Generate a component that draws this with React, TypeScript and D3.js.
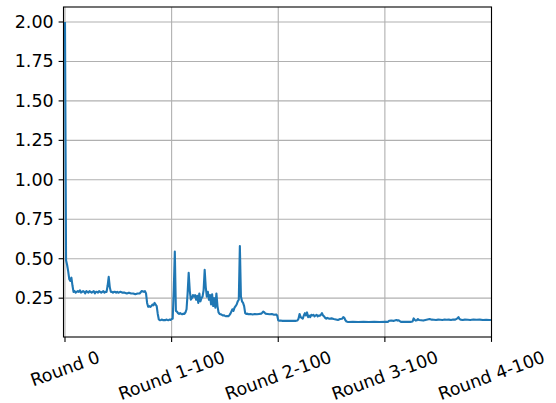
import React from "react";
import * as d3 from "d3";

// ---- data ----
const stepIndex: number[] = [
  0, 1, 2, 3, 4, 5, 6, 7, 8, 9, 10, 11, 12, 13, 14, 15, 16, 17, 18, 19,
  20, 21, 22, 23, 24, 25, 26, 27, 28, 29, 30, 31, 32, 33, 34, 35, 36, 37, 38, 39,
  40, 41, 42, 43, 44, 45, 46, 47, 48, 49, 50, 52, 54, 56, 58, 60, 62, 64, 66, 68,
  70, 72, 74, 75, 76, 77, 78, 79, 80, 81, 82, 83, 84, 85, 86, 87, 88, 89, 90, 91,
  92, 93, 94, 95, 96, 97, 98, 99, 100, 101, 102, 103, 104, 105, 106, 107, 108, 109, 110, 111,
  112, 113, 114, 115, 116, 117, 118, 119, 120, 121, 122, 123, 124, 125, 126, 127, 128, 129, 130, 131,
  132, 133, 134, 135, 136, 137, 138, 139, 140, 141, 142, 143, 144, 145, 146, 147, 148, 149, 150, 151,
  152, 153, 154, 155, 156, 157, 158, 159, 160, 161, 162, 163, 164, 165, 166, 167, 168, 169, 170, 171,
  172, 174, 176, 178, 180, 182, 184, 185, 186, 187, 188, 190, 192, 194, 196, 198, 199, 200, 201, 202,
  204, 206, 208, 210, 212, 214, 216, 218, 219, 220, 221, 222, 223, 224, 225, 226, 227, 228, 229, 230,
  231, 232, 233, 234, 235, 236, 237, 238, 239, 240, 241, 242, 243, 244, 245, 246, 248, 250, 252, 254,
  256, 258, 260, 261, 262, 263, 264, 265, 266, 270, 275, 280, 285, 290, 295, 300, 303, 304, 306, 308,
  310, 311, 312, 313, 314, 315, 318, 321, 324, 326, 327, 328, 329, 330, 331, 332, 334, 336, 338, 340,
  342, 344, 346, 348, 350, 352, 354, 356, 358, 360, 362, 364, 366, 368, 369, 370, 371, 373, 375, 378,
  380, 383, 386, 389, 392, 395, 398, 400,
];

const lossValues: number[] = [
  2.0, 0.49, 0.46, 0.42, 0.37, 0.36, 0.38, 0.33, 0.29, 0.295, 0.285, 0.29, 0.295, 0.29, 0.3, 0.285, 0.29, 0.295, 0.29, 0.28,
  0.295, 0.29, 0.285, 0.295, 0.29, 0.285, 0.29, 0.295, 0.28, 0.29, 0.29, 0.285, 0.295, 0.29, 0.285, 0.29, 0.295, 0.285, 0.29, 0.29,
  0.33, 0.385, 0.32, 0.29, 0.29, 0.285, 0.29, 0.29, 0.285, 0.29, 0.285, 0.29, 0.285, 0.285, 0.28, 0.285, 0.28, 0.28, 0.275, 0.28,
  0.28, 0.295, 0.29, 0.295, 0.28, 0.22, 0.195, 0.2, 0.195, 0.2, 0.21, 0.205, 0.22, 0.21, 0.2, 0.15, 0.115, 0.11, 0.112, 0.115,
  0.11, 0.112, 0.11, 0.115, 0.112, 0.11, 0.115, 0.112, 0.118, 0.12, 0.3, 0.545, 0.17, 0.165, 0.155, 0.15, 0.155, 0.15, 0.148, 0.152,
  0.15, 0.16, 0.18, 0.28, 0.41, 0.3, 0.24, 0.25, 0.27, 0.26, 0.27, 0.24, 0.265, 0.22, 0.28, 0.23, 0.25, 0.26, 0.3, 0.43,
  0.32, 0.26, 0.29, 0.24, 0.27, 0.21, 0.275, 0.2, 0.25, 0.19, 0.28, 0.2, 0.16, 0.15, 0.148, 0.145, 0.14, 0.142, 0.138, 0.135,
  0.137, 0.135, 0.14, 0.15, 0.165, 0.18, 0.17, 0.19, 0.2, 0.21, 0.23, 0.24, 0.58, 0.26, 0.23, 0.22, 0.2, 0.155, 0.15, 0.152,
  0.148, 0.15, 0.147, 0.15, 0.148, 0.15, 0.152, 0.158, 0.165, 0.16, 0.152, 0.15, 0.148, 0.15, 0.145, 0.147, 0.14, 0.11, 0.107, 0.108,
  0.106, 0.107, 0.106, 0.107, 0.106, 0.107, 0.106, 0.108, 0.12, 0.15, 0.13, 0.125, 0.12, 0.14, 0.155, 0.14, 0.16, 0.13, 0.14, 0.13,
  0.145, 0.14, 0.145, 0.135, 0.14, 0.145, 0.135, 0.14, 0.138, 0.145, 0.155, 0.14, 0.135, 0.125, 0.12, 0.125, 0.12, 0.122, 0.118, 0.115,
  0.112, 0.118, 0.12, 0.13, 0.125, 0.11, 0.102, 0.1, 0.099, 0.1, 0.099, 0.1, 0.099, 0.1, 0.099, 0.1, 0.1, 0.107, 0.108, 0.106,
  0.11, 0.112, 0.108, 0.11, 0.104, 0.1, 0.1, 0.101, 0.1, 0.102, 0.122, 0.112, 0.108, 0.11, 0.118, 0.112, 0.11, 0.108, 0.112, 0.115,
  0.118, 0.114, 0.113, 0.112, 0.114, 0.113, 0.112, 0.115, 0.113, 0.114, 0.112, 0.115, 0.114, 0.122, 0.13, 0.118, 0.114, 0.112, 0.114, 0.113,
  0.112, 0.115, 0.113, 0.114, 0.112, 0.113, 0.112, 0.112,
];

const xTickValues: number[] = [0, 100, 200, 300, 400];
const xTickLabels: string[] = ["Round 0", "Round 1-100", "Round 2-100", "Round 3-100", "Round 4-100"];
const yTickValues: number[] = [0.25, 0.5, 0.75, 1.0, 1.25, 1.5, 1.75, 2.0];

// ---- layout ----
const W = 556;
const H = 403;
const left = 63.5;
const right = 491.5;
const top = 7;
const bottom = 337;
const FONT = "DejaVu Sans, sans-serif";
const FS = 17.5;
const TICK = 4.9;
const PAD = 4.9;

function measure(text: string): number {
  try {
    const c = document.createElement("canvas").getContext("2d");
    if (c) {
      c.font = `${FS}px DejaVu Sans`;
      return c.measureText(text).width;
    }
  } catch (e) {}
  return text.length * FS * 0.6;
}

export default function App() {
  const [ymin, ymax] = d3.extent(lossValues) as [number, number];
  const pad = (ymax - ymin) * 0.05;
  const x = d3.scaleLinear().domain([-1.4, 400]).range([left, right]);
  const y = d3.scaleLinear().domain([ymin - pad, ymax + pad]).range([bottom, top]);

  const pts: [number, number][] = stepIndex.map((s, i) => [s, lossValues[i]]);
  const line = d3
    .line<[number, number]>()
    .x((d) => x(d[0]))
    .y((d) => y(d[1]));

  const ang = 20 * (Math.PI / 180);
  const textH = FS * 1.16;

  return (
    <svg
      width={W}
      height={H}
      style={{ position: "absolute", left: 0, top: 0, background: "#fff" }}
      fontFamily={FONT}
    >
      <rect x={0} y={0} width={W} height={H} fill="#fff" />
      {/* grid */}
      {xTickValues.map((v) => (
        <line key={"gx" + v} x1={x(v)} x2={x(v)} y1={top} y2={bottom} stroke="#b0b0b0" strokeWidth={1.1} />
      ))}
      {yTickValues.map((v) => (
        <line key={"gy" + v} x1={left} x2={right} y1={y(v)} y2={y(v)} stroke="#b0b0b0" strokeWidth={1.1} />
      ))}
      {/* data line */}
      <path d={line(pts) || ""} fill="none" stroke="#1f77b4" strokeWidth={2.1} strokeLinejoin="round" />
      {/* spines */}
      <rect x={left} y={top} width={right - left} height={bottom - top} fill="none" stroke="#000" strokeWidth={1.1} />
      {/* y ticks */}
      {yTickValues.map((v) => (
        <g key={"ty" + v}>
          <line x1={left - TICK} x2={left} y1={y(v)} y2={y(v)} stroke="#000" strokeWidth={1.1} />
          <text
            x={left - TICK - PAD}
            y={y(v)}
            textAnchor="end"
            dominantBaseline="central"
            fontSize={FS}
            fill="#000"
          >
            {v.toFixed(2)}
          </text>
        </g>
      ))}
      {/* x ticks */}
      {xTickValues.map((v, i) => {
        const label = xTickLabels[i];
        const w = measure(label);
        const bh = w * Math.sin(ang) + textH * Math.cos(ang);
        const cx = x(v);
        const cy = bottom + TICK + PAD + bh / 2;
        return (
          <g key={"tx" + v}>
            <line x1={cx} x2={cx} y1={bottom} y2={bottom + TICK} stroke="#000" strokeWidth={1.1} />
            <text
              x={cx}
              y={cy}
              textAnchor="middle"
              dominantBaseline="central"
              fontSize={FS}
              fill="#000"
              transform={`rotate(-20, ${cx}, ${cy})`}
            >
              {label}
            </text>
          </g>
        );
      })}
    </svg>
  );
}
